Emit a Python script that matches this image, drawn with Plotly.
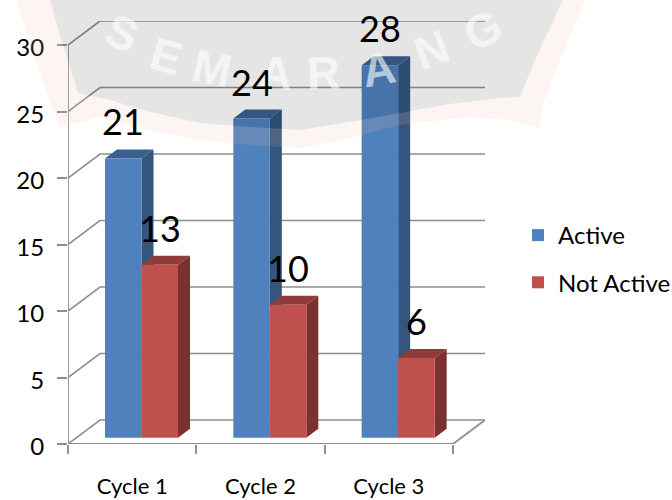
import plotly.graph_objects as go

# ---- data ----
categories = ["Cycle 1", "Cycle 2", "Cycle 3"]
active = [21, 24, 28]
not_active = [13, 10, 6]
y_ticks = [0, 5, 10, 15, 20, 25, 30]

# ---- styling / geometry (pixels of the 672x500 page) ----
W, H = 672, 500
RIGHT_MARGIN = 160
PW = W - RIGHT_MARGIN                  # paper width: the legend sits in the right margin
X0_PX, X3_PX, BACK_PX = 68, 453, 485
Y0_PX, Y_TOP_PX = 444, 21
SLOT = (X3_PX - X0_PX) / 3
UNIT = 13.3
DX = (BACK_PX - X3_PX) / SLOT          # wall depth, data units
DY = 24 / UNIT
BAR_W = 36.5 / SLOT
BAR_DX = 12 / SLOT                     # bar depth
BAR_DY = 9 / UNIT
LIFT = 6.3 / UNIT                      # bars stand slightly into the floor
SHIFT = 0.0727                         # groups sit a little right of slot centre
LABEL_UP = 37 / UNIT

BLUE, RED = "#4f81bd", "#c0504d"
BLUE_SIDE, BLUE_TOP = "#33557e", "#3a608f"
RED_SIDE, RED_TOP = "#7b3130", "#8e3b39"
GRID = "#8f8f8f"
FONT = "Lato, Carlito, 'Open Sans', sans-serif"


def poly(points, fill, layer="below"):
    d = "M " + " L ".join(f"{x},{y}" for x, y in points) + " Z"
    return dict(type="path", path=d, xref="x", yref="y", fillcolor=fill,
                line=dict(width=0), layer=layer)


def line(points, width=1.6):
    d = "M " + " L ".join(f"{x},{y}" for x, y in points)
    return dict(type="path", path=d, xref="x", yref="y",
                line=dict(color=GRID, width=width), layer="below")


shapes = []
# walls and floor
for lv in y_ticks:
    shapes.append(line([(0, lv), (DX, lv + DY), (3 + DX, lv + DY)]))
shapes.append(line([(3 + DX, DY), (3, 0), (0, 0)], 1.8))
shapes.append(line([(0, 0), (0, max(y_ticks))], 1.8))

# bar sides and tops (active first, so red covers them)
cx = [i + 0.5 + SHIFT for i in range(3)]
for values, off, side, top in ((active, -BAR_W, BLUE_SIDE, BLUE_TOP),
                               (not_active, 0, RED_SIDE, RED_TOP)):
    for c, v in zip(cx, values):
        l, r = c + off, c + off + BAR_W
        t = v + LIFT
        shapes.append(poly([(r, LIFT), (r + BAR_DX, LIFT + BAR_DY),
                            (r + BAR_DX, t + BAR_DY), (r, t)], side))
        shapes.append(poly([(l, t), (l + BAR_DX, t + BAR_DY),
                            (r + BAR_DX, t + BAR_DY), (r, t)], top))


# ---- watermark, over everything ----
def P(pts):
    return " ".join(("M" if i == 0 else "L") + f" {x / PW:.4f},{1 - y / H:.4f}"
                    for i, (x, y) in enumerate(pts)) + " Z"


gray = [(50, 0), (60, 35), (78, 93), (110, 100), (150, 112), (200, 123), (250, 127), (300, 130),
        (350, 122), (400, 113), (450, 104), (500, 98), (520, 97), (535, 60), (563, 0)]
cream = [(17, 0), (35, 60), (60, 127), (100, 117), (150, 130), (200, 140), (250, 145), (300, 148),
         (350, 138), (400, 125), (467, 117), (510, 120), (540, 128), (542, 107), (560, 60), (585, 0)]
ring = cream + gray[::-1]
shapes.append(dict(type="path", path=P(ring), xref="paper", yref="paper",
                   fillcolor="rgba(235,190,160,0.15)", line=dict(width=0), layer="above"))
shapes.append(dict(type="path", path=P(gray), xref="paper", yref="paper",
                   fillcolor="rgba(0,0,0,0.10)", line=dict(width=0), layer="above"))

marks = [("S", 122, 33, 22), ("E", 166, 56, 16), ("M", 212, 68, 12), ("A", 275, 73, 4),
         ("R", 323, 73, -2), ("A", 378, 69, -10), ("N", 431, 50, -20), ("G", 483, 30, -26)]
annotations = [dict(text=f"<b>{ch}</b>", x=x / PW, y=1 - y / H, xref="paper", yref="paper", showarrow=False,
                    xanchor="center", yanchor="middle", textangle=a, opacity=0.6,
                    font=dict(family="'Liberation Sans', Arial, sans-serif", size=46, color="#ffffff"))
               for ch, x, y, a in marks]

# data labels, after the watermark letters so they stay on top
lx = [c - BAR_W / 2 for c in cx] + [c + BAR_W / 2 for c in cx]
lv = list(active) + list(not_active)
annotations += [dict(text=str(v), x=x, y=v + LIFT + LABEL_UP, xref="x", yref="y", showarrow=False,
                     xanchor="center", yanchor="middle",
                     font=dict(family=FONT, size=36, color="#000000"))
                for x, v in zip(lx, lv)]

fig = go.Figure()
fig.add_bar(name="Active", x=cx, y=active, base=LIFT, width=BAR_W, offset=-BAR_W,
            marker=dict(color=BLUE, line=dict(width=0)))
fig.add_bar(name="Not Active", x=cx, y=not_active, base=LIFT, width=BAR_W, offset=0,
            marker=dict(color=RED, line=dict(width=0)))

fig.update_layout(
    width=W, height=H, margin=dict(l=0, r=RIGHT_MARGIN, t=0, b=0), autosize=False,
    paper_bgcolor="white", plot_bgcolor="rgba(0,0,0,0)", showlegend=True,
    barmode="overlay", shapes=shapes, annotations=annotations,
    font=dict(family=FONT, color="#000000", size=24),
    legend=dict(xref="container", yref="container", x=518 / W, y=1 - 213 / H,
                xanchor="left", yanchor="top",
                bgcolor="rgba(0,0,0,0)", tracegroupgap=13, itemwidth=30,
                font=dict(family=FONT, size=24)),
    xaxis=dict(domain=[X0_PX / PW, BACK_PX / PW], range=[0, (BACK_PX - X0_PX) / SLOT],
               automargin=False,
               tickvals=[i + 0.5 for i in range(3)], ticktext=categories,
               ticks="outside", ticklen=23, tickcolor="rgba(0,0,0,0)", showgrid=False,
               zeroline=False, showline=False, tickfont=dict(family=FONT, size=22),
               minor=dict(tickvals=[0, 1, 2, 3], ticks="outside", ticklen=9, tickwidth=2,
                          tickcolor=GRID, showgrid=False)),
    yaxis=dict(domain=[(H - Y0_PX) / H, (H - Y_TOP_PX) / H], range=[0, (Y0_PX - Y_TOP_PX) / UNIT],
               automargin=False,
               tickvals=y_ticks, ticks="outside", ticklen=10, tickwidth=2, tickcolor=GRID,
               showgrid=False, zeroline=False, showline=False, ticklabelstandoff=8,
               ticklabelshift=3, tickfont=dict(family=FONT, size=24)),
)
for i, t in enumerate(fig.data[:2]):
    t.legendgroup = t.name

fig.write_html("out.html", config=dict(displayModeBar=False),
               post_script="document.body.style.margin='0';document.body.style.overflow='hidden';")
